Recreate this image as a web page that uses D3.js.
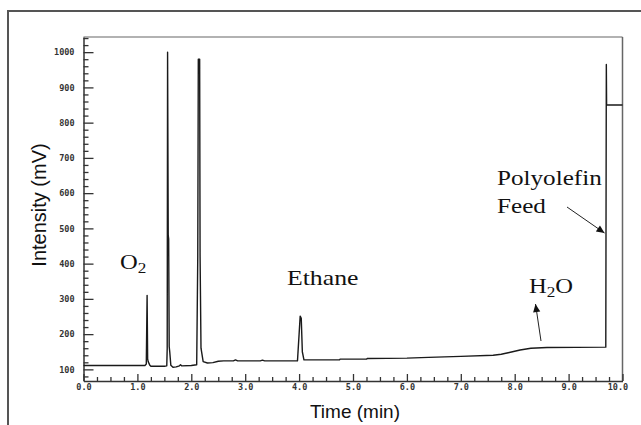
<!DOCTYPE html>
<html>
<head>
<meta charset="utf-8">
<script src="https://cdn.jsdelivr.net/npm/d3@7"></script>
<style>
  body { margin: 0; background: #fff; }
  svg { display: block; }
</style>
</head>
<body>
<svg id="chart"></svg>
<script>
// chromatogram trace
const time = [0, 1.14, 1.165, 1.18, 1.19, 1.2, 1.23, 1.25, 1.5, 1.545, 1.553, 1.56, 1.572, 1.58, 1.59, 1.6, 1.62, 1.66, 1.72, 1.78, 1.8, 1.82, 2.0, 2.1, 2.12, 2.13, 2.155, 2.163, 2.18, 2.22, 2.3, 2.4, 2.5, 2.6, 2.78, 2.82, 2.86, 3.28, 3.32, 3.36, 3.97, 4.0, 4.02, 4.04, 4.06, 4.09, 4.75, 4.76, 5.25, 5.27, 6.0, 6.4, 7.0, 7.6, 7.75, 7.9, 8.1, 8.3, 8.6, 9.69, 9.7, 9.705, 10.0];
const intensity = [111, 111, 115, 310, 130, 122, 112, 109, 109, 110, 160, 1000, 480, 470, 165, 150, 112, 106, 107, 110, 113, 110, 111, 113, 420, 980, 980, 420, 160, 122, 118, 119, 123, 124, 124, 127, 124, 124, 126, 124, 124, 200, 251, 245, 150, 127, 127, 129, 129, 131, 132, 134, 137, 140, 143, 148, 155, 160, 162, 163, 965, 850, 850];

const xMajor = [0, 1, 2, 3, 4, 5, 6, 7, 8, 9, 10];
const yMajor = [100, 200, 300, 400, 500, 600, 700, 800, 900, 1000];

const width = 641, height = 425;
const plot = { left: 83.5, right: 622.5, top: 37, bottom: 381 };

const svg = d3.select("#chart")
    .attr("width", width)
    .attr("height", height);

// outer frame (left + top only visible)
svg.append("path")
    .attr("d", `M8,${height} V11 H${width}`)
    .attr("fill", "none")
    .attr("stroke", "#555")
    .attr("stroke-width", 2);

const x = d3.scaleLinear().domain([0, 10]).range([plot.left, plot.right]);
const y = d3.scaleLinear().domain([67, 1043]).range([plot.bottom, plot.top]);

const xMinor = d3.range(0, 10.01, 0.25).filter(v => Math.abs(v - Math.round(v)) > 0.01);
const yMinor = d3.range(80, 1041, 20).filter(v => v % 100 !== 0);

// top and right frame
svg.append("line")
    .attr("x1", plot.left).attr("x2", plot.right)
    .attr("y1", plot.top).attr("y2", plot.top)
    .attr("stroke", "#999").attr("stroke-width", 1.5);
svg.append("line")
    .attr("x1", plot.right).attr("x2", plot.right)
    .attr("y1", plot.top).attr("y2", plot.bottom)
    .attr("stroke", "#666").attr("stroke-width", 1.5);

const tickFont = g => g.selectAll("text")
    .attr("font-family", "DejaVu Sans Mono, monospace")
    .attr("font-size", 8.5)
    .attr("font-weight", "bold")
    .attr("fill", "#333");

// y axis
svg.append("g")
    .attr("transform", `translate(${plot.left},0)`)
    .call(d3.axisLeft(y).tickValues(yMinor).tickSize(-5).tickSizeOuter(0).tickFormat(""))
    .call(g => g.select(".domain").remove())
    .call(g => g.selectAll("line").attr("stroke", "#333").attr("stroke-width", 1.3));
svg.append("g")
    .attr("transform", `translate(${plot.left},0)`)
    .call(d3.axisLeft(y).tickValues(yMajor).tickSize(-10).tickSizeOuter(0).tickPadding(9).tickFormat(d3.format("d")))
    .call(g => g.select(".domain").attr("stroke", "#333").attr("stroke-width", 1.5))
    .call(g => g.selectAll("line").attr("stroke", "#333").attr("stroke-width", 1.3))
    .call(tickFont);

// x axis
svg.append("g")
    .attr("transform", `translate(0,${plot.bottom})`)
    .call(d3.axisBottom(x).tickValues(xMinor).tickSize(-4).tickSizeOuter(0).tickFormat(""))
    .call(g => g.select(".domain").remove())
    .call(g => g.selectAll("line").attr("stroke", "#333").attr("stroke-width", 1.3));
svg.append("g")
    .attr("transform", `translate(0,${plot.bottom})`)
    .call(d3.axisBottom(x).tickValues(xMajor).tickSize(-7).tickSizeOuter(0).tickPadding(3).tickFormat(d3.format(".1f")))
    .call(g => g.select(".domain").attr("stroke", "#333").attr("stroke-width", 1.5))
    .call(g => g.selectAll("line").attr("stroke", "#333").attr("stroke-width", 1.3))
    .call(tickFont)
    .call(g => g.selectAll("text").filter(d => d === 10).attr("dx", "-0.6em"));

// trace
const pts = time.map((t, i) => [t, intensity[i]]);
svg.append("path")
    .datum(pts)
    .attr("fill", "none")
    .attr("stroke", "#1a1a1a")
    .attr("stroke-width", 1.4)
    .attr("stroke-linejoin", "round")
    .attr("d", d3.line().x(d => x(d[0])).y(d => y(d[1])));

// axis titles
svg.append("text")
    .attr("x", (plot.left + plot.right) / 2 + 2)
    .attr("y", 418)
    .attr("text-anchor", "middle")
    .attr("font-family", "Liberation Sans, Arial, sans-serif")
    .attr("font-size", 19)
    .attr("fill", "#111")
    .text("Time (min)");
svg.append("text")
    .attr("transform", "translate(46,205) rotate(-90)")
    .attr("text-anchor", "middle")
    .attr("font-family", "Liberation Sans, Arial, sans-serif")
    .attr("font-size", 20)
    .attr("fill", "#111")
    .text("Intensity (mV)");

// peak labels (serif, slightly stretched like the scan)
const serif = "Liberation Serif, Times New Roman, serif";
function label(px, py, size, parts) {
    const t = svg.append("g")
        .attr("transform", `translate(${px},${py}) scale(1.17,1)`)
        .append("text")
        .attr("font-family", serif)
        .attr("font-size", size)
        .attr("fill", "#111");
    parts.forEach(p => {
        const s = t.append("tspan").text(p.text);
        if (p.sub) s.attr("font-size", size * 0.7).attr("dy", size * 0.2);
        if (p.back) s.attr("dy", -size * 0.2);
    });
}
label(120, 269, 21, [{ text: "O" }, { text: "2", sub: true }]);
label(287, 285, 22, [{ text: "Ethane" }]);
label(529, 293, 21, [{ text: "H" }, { text: "2", sub: true }, { text: "O", back: true }]);
label(497, 185, 21.5, [{ text: "Polyolefin" }]);
label(497, 213, 21.5, [{ text: "Feed" }]);

// arrows
const defs = svg.append("defs");
defs.append("marker")
    .attr("id", "head")
    .attr("viewBox", "0 0 10 10")
    .attr("refX", 10).attr("refY", 5)
    .attr("markerWidth", 9).attr("markerHeight", 8)
    .attr("markerUnits", "userSpaceOnUse")
    .attr("orient", "auto")
    .append("path")
    .attr("d", "M0,0.5 L10,5 L0,9.5 z")
    .attr("fill", "#111");

const arrows = [
    [541, 341, 535.5, 304],
    [567, 207, 604.5, 233]
];
svg.selectAll("line.arrow")
    .data(arrows)
    .join("line")
    .attr("class", "arrow")
    .attr("x1", d => d[0]).attr("y1", d => d[1])
    .attr("x2", d => d[2]).attr("y2", d => d[3])
    .attr("stroke", "#222")
    .attr("stroke-width", 1)
    .attr("marker-end", "url(#head)");
</script>
</body>
</html>
